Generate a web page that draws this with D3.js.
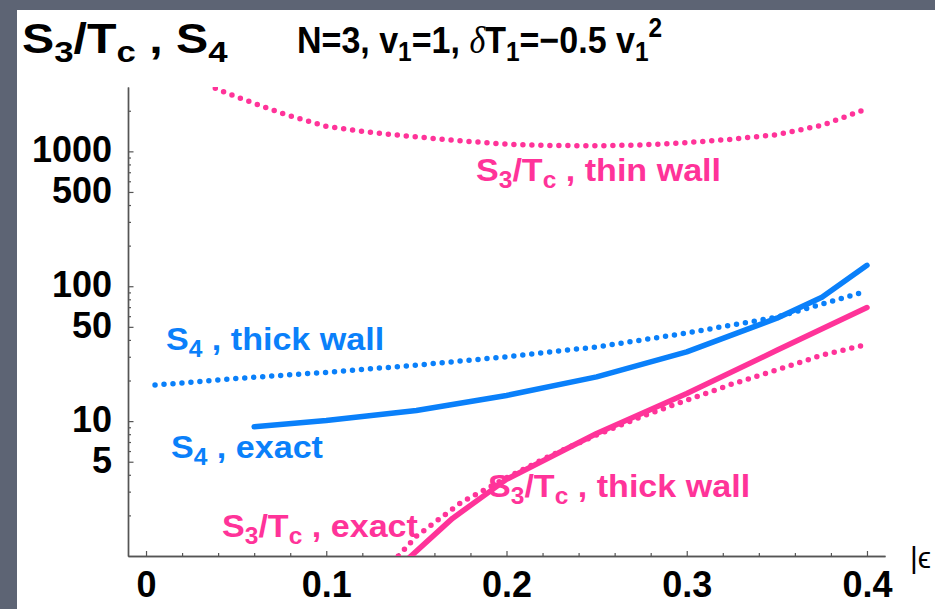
<!DOCTYPE html>
<html>
<head>
<meta charset="utf-8">
<script src="https://cdn.jsdelivr.net/npm/d3@7"></script>
<style>
  html, body { margin: 0; padding: 0; background: #5d6474; }
  svg { display: block; }
  text { font-family: "Liberation Sans", Arial, Helvetica, sans-serif; }
</style>
</head>
<body>
<svg id="chart" width="935" height="609"></svg>
<script>
// |ε| grids and action values for each curve
const thinWallEps = [0.025, 0.04, 0.05, 0.075, 0.1, 0.125, 0.15, 0.175, 0.2, 0.225, 0.25, 0.275, 0.3, 0.325, 0.35, 0.375, 0.4];
const thinWallS3  = [3600, 2870, 2540, 1920, 1530, 1380, 1280, 1195, 1130, 1105, 1100, 1115, 1160, 1230, 1330, 1560, 2070];

const thickWallS4Eps = [0.005, 0.05, 0.1, 0.15, 0.2, 0.25, 0.3, 0.35, 0.4];
const thickWallS4    = [18.5, 20.7, 23.0, 26.0, 30.0, 35.5, 45, 59, 92];

const exactS4Eps = [0.06, 0.1, 0.15, 0.2, 0.25, 0.3, 0.35, 0.375, 0.4];
const exactS4    = [9.1, 10.1, 12.0, 15.5, 21.3, 32.6, 58, 83, 143];

const exactS3Eps = [0.14, 0.17, 0.2, 0.25, 0.3, 0.35, 0.4];
const exactS3    = [0.82, 1.9, 3.7, 8.1, 16.0, 33.5, 69.5];

const thickWallS3Eps = [0.14, 0.15, 0.175, 0.2, 0.225, 0.25, 0.275, 0.3, 0.325, 0.35, 0.375, 0.4];
const thickWallS3    = [1.0, 1.4, 2.5, 3.8, 5.6, 7.9, 10.8, 14.3, 18.8, 24, 30.8, 37];

// axis ticks
const xMajorTicks = [0, 0.1, 0.2, 0.3, 0.4];
const xMinorTicks = [0.02, 0.04, 0.06, 0.08, 0.12, 0.14, 0.16, 0.18, 0.22, 0.24, 0.26, 0.28, 0.32, 0.34, 0.36, 0.38];
const yLabelTicks = [5, 10, 50, 100, 500, 1000];
const yMinorTicks = [2, 3, 4, 6, 7, 8, 9, 20, 30, 40, 60, 70, 80, 90, 200, 300, 400, 600, 700, 800, 900, 2000];

const PINK = "#ff3399";
const BLUE = "#0a80fa";

const svg = d3.select("#chart");

// white slide panel
svg.append("rect").attr("x", 17).attr("y", 10).attr("width", 918).attr("height", 599).attr("fill", "#ffffff");

const x = d3.scaleLinear().domain([-0.01, 0.41]).range([128, 885]);
const y = d3.scaleLog().domain([1, 3000]).range([556, 87]);

// plot-area clip
svg.append("clipPath").attr("id", "plotClip")
  .append("rect").attr("x", 128).attr("y", 87).attr("width", 760).attr("height", 469);

// axes
const axisColor = "#555";
function styleAxis(g) {
  g.selectAll("path.domain").attr("stroke", axisColor).attr("stroke-width", 1.4);
  g.selectAll(".tick line").attr("stroke", axisColor).attr("stroke-width", 1.2);
}

const yMinor = svg.append("g").attr("transform", "translate(128,0)")
  .call(d3.axisLeft(y).tickValues(yMinorTicks).tickSizeInner(-3).tickSizeOuter(0).tickFormat(""));
const yMajor = svg.append("g").attr("transform", "translate(128,0)")
  .call(d3.axisLeft(y).tickValues(yLabelTicks).tickSizeInner(-5.5).tickSizeOuter(0).tickPadding(16).tickFormat(d3.format("d")));
const xMinor = svg.append("g").attr("transform", "translate(0,556)")
  .call(d3.axisBottom(x).tickValues(xMinorTicks).tickSizeInner(-3).tickSizeOuter(0).tickFormat(""));
const xMajor = svg.append("g").attr("transform", "translate(0,556)")
  .call(d3.axisBottom(x).tickValues(xMajorTicks).tickSizeInner(-5).tickSizeOuter(0).tickPadding(15)
        .tickFormat(d => d === 0 ? "0" : d3.format(".1f")(d)));
[yMinor, yMajor, xMinor, xMajor].forEach(styleAxis);

[yMajor, xMajor].forEach(g => g.selectAll(".tick text")
  .attr("fill", "#000").attr("font-size", 36).attr("font-weight", "bold")
  .attr("font-family", "'Liberation Sans', Arial, sans-serif"));
yMajor.selectAll(".tick text").attr("dy", "0.29em");

// curves
const line = d3.line().x(d => x(d[0])).y(d => y(d[1]));
const plot = svg.append("g").attr("clip-path", "url(#plotClip)");

function drawCurve(eps, vals, color, dotted) {
  const pts = eps.map((e, i) => [e, vals[i]]);
  const p = plot.append("path").datum(pts)
    .attr("d", line)
    .attr("fill", "none")
    .attr("stroke", color)
    .attr("stroke-width", 5.5)
    .attr("stroke-linecap", "round")
    .attr("stroke-linejoin", "round");
  if (dotted) p.attr("stroke-dasharray", "0 9");
}

drawCurve(thinWallEps, thinWallS3, PINK, true);
drawCurve(thickWallS4Eps, thickWallS4, BLUE, true);
drawCurve(exactS4Eps, exactS4, BLUE, false);
drawCurve(thickWallS3Eps, thickWallS3, PINK, true);
drawCurve(exactS3Eps, exactS3, PINK, false);

// text with sub/superscripts
function richText(px, py, parts, opt) {
  const size = opt.size;
  const t = svg.append("text")
    .attr("transform", `translate(${px},${py}) scale(${opt.sx || 1},${opt.sy || 1})`)
    .attr("font-size", size)
    .attr("font-weight", opt.weight || "bold")
    .attr("fill", opt.color || "#000");
  let level = 0;
  parts.forEach(([str, kind]) => {
    let target = 0;
    if (kind === "sub") target = 0.22 * size;
    if (kind === "sup") target = -0.42 * size;
    const ts = t.append("tspan").text(str).attr("dy", target - level);
    level = target;
    if (kind === "sub" || kind === "sup") ts.attr("font-size", size * 0.72);
    if (kind === "it") ts.attr("font-style", "italic").attr("font-weight", "normal")
      .attr("font-family", "'Liberation Serif', 'DejaVu Serif', serif");
  });
  return t;
}

// headings
richText(22, 53, [["S"], ["3", "sub"], ["/T"], ["c", "sub"], [" , S"], ["4", "sub"]], { size: 42, sx: 1.15 });
richText(297, 53, [["N=3, v"], ["1", "sub"], ["=1, "], ["\u03b4", "it"], ["T"], ["1", "sub"], ["=\u22120.5 v"], ["1", "sub"], ["2", "sup"]],
  { size: 34, sy: 1.1 });

// curve labels
const lbl = { size: 32, sx: 1.065 };
richText(476, 181, [["S"], ["3", "sub"], ["/T"], ["c", "sub"], [" , thin wall"]], { ...lbl, color: PINK });
richText(166, 350, [["S"], ["4", "sub"], [" , thick wall"]], { ...lbl, color: BLUE });
richText(171, 458, [["S"], ["4", "sub"], [" , exact"]], { ...lbl, color: BLUE });
richText(488, 497, [["S"], ["3", "sub"], ["/T"], ["c", "sub"], [" , thick wall"]], { ...lbl, color: PINK });
richText(222, 537, [["S"], ["3", "sub"], ["/T"], ["c", "sub"], [" , exact"]], { ...lbl, color: PINK });

// x-axis variable
svg.append("text").attr("x", 910).attr("y", 568)
  .attr("font-size", 30).attr("fill", "#000")
  .attr("font-family", "'DejaVu Sans', sans-serif")
  .text("|\u03f5");
</script>
</body>
</html>
